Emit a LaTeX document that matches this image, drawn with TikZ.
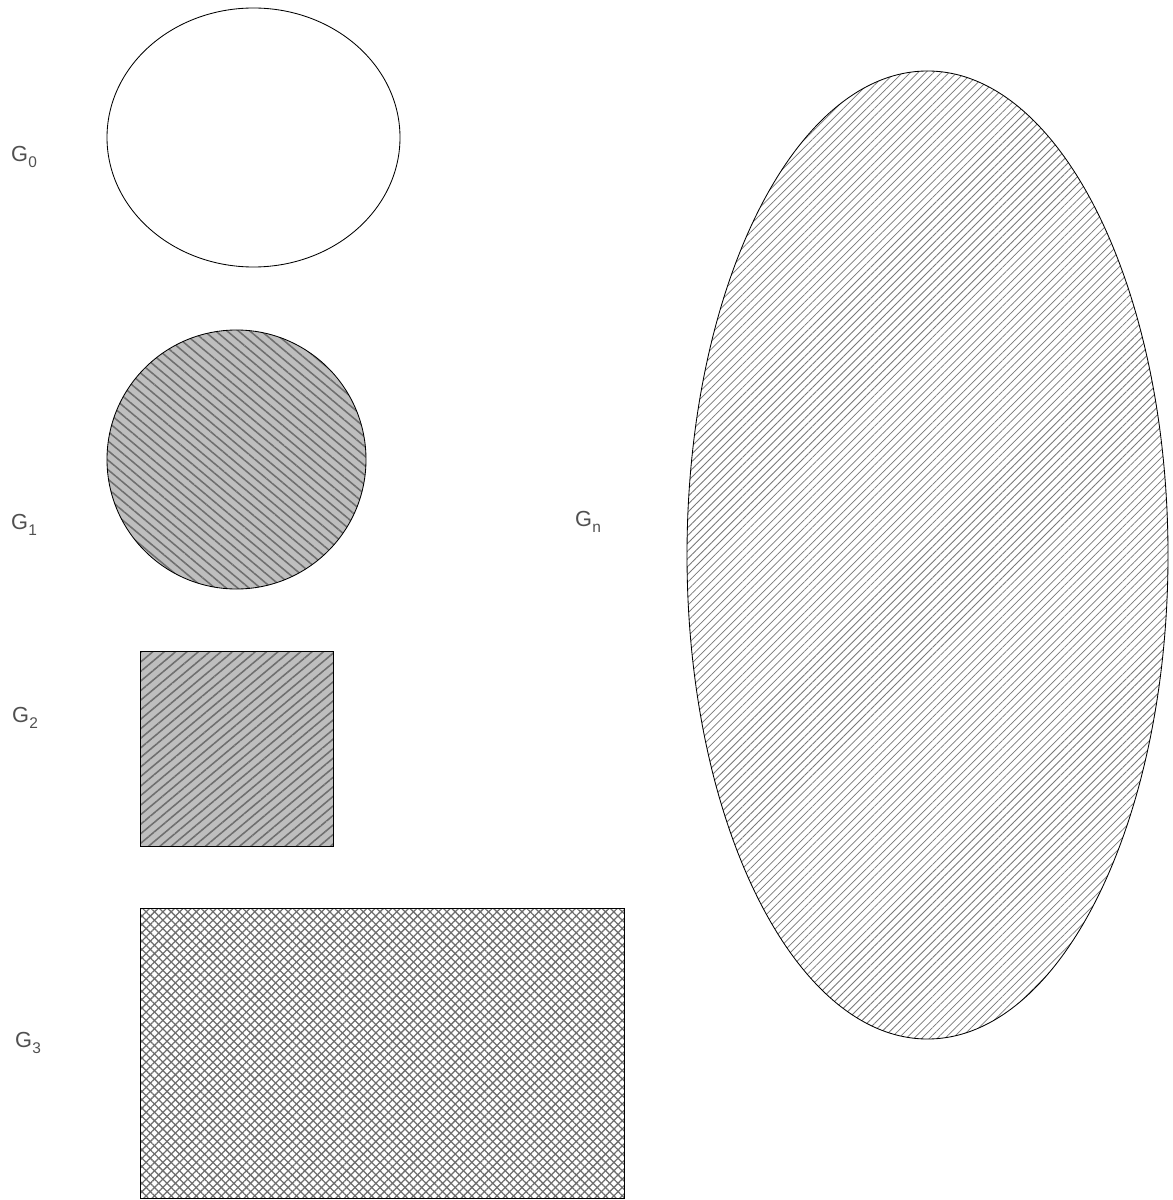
\documentclass[tikz,border=0pt]{standalone}
\usepackage{fontspec}
\setmainfont{Liberation Sans}
\usepackage{xcolor}
\usepackage{tikz}
\usetikzlibrary{patterns.meta}
\definecolor{setgray}{RGB}{190, 190, 190}
\definecolor{hatchdark}{RGB}{110, 110, 110}
\definecolor{hatchlight}{RGB}{120, 120, 120}
\definecolor{labelgray}{RGB}{80, 80, 80}
\newcommand{\setsub}[1]{\kern0.3pt\raisebox{-4pt}{\fontsize{11}{13}\selectfont #1}}
\tikzset{
  setline/.style = {draw=black, line width=0.6pt},
  setlbl/.style  = {font=\fontsize{15.5}{18}\selectfont, text=labelgray,
                    inner sep=0pt},
  hatchfg/.style = {
    postaction={pattern={Lines[angle=#1, distance=5.2pt, line width=1.1pt]},
                pattern color=hatchdark}
  },
  hatchfg/.default = 45,
  finefg/.style = {
    postaction={pattern={Lines[angle=#1, distance=3.9pt, line width=0.55pt]},
                pattern color=hatchlight}
  },
  finefg/.default = 45,
  crossfg/.style = {
    postaction={pattern={Lines[angle=45, distance=4.2pt, line width=0.9pt]},
                pattern color=hatchdark},
    postaction={pattern={Lines[angle=-45, distance=4.2pt, line width=0.9pt]},
                pattern color=hatchdark}
  },
}

\begin{document}
\begin{tikzpicture}[x=0.025cm, y=-0.025cm]
  \useasboundingbox (0,0) rectangle (1172,1200);

  % Empty set (top left)
  \draw[setline] (253.5,137.5) ellipse [x radius=146.5, y radius=129.5];
  \node[setlbl] (g0) at (24,157) {G\setsub{0}};

  % Shaded disc and square
  \fill[setgray, hatchfg=-40] (236.5,459.5) circle [radius=129.5];
  \draw[setline] (236.5,459.5) circle [radius=129.5];
  \node[setlbl] (g1) at (24,525) {G\setsub{1}};

  \fill[setgray, hatchfg=40] (140,651) rectangle (333,846);
  \draw[setline] (140,651) rectangle (333,846);
  \node[setlbl] (g2) at (25,718) {G\setsub{2}};

  % Cross-hatched rectangle (bottom)
  \fill[white, crossfg] (140,908) rectangle (624,1198);
  \draw[setline] (140,908) rectangle (624,1198);
  \node[setlbl] (g3) at (28,1043) {G\setsub{3}};

  % Large set (right)
  \fill[white, finefg=45] (927.5,555) ellipse [x radius=240.5, y radius=484];
  \draw[setline] (927.5,555) ellipse [x radius=240.5, y radius=484];
  \node[setlbl] (gn) at (588,522) {G\setsub{n}};

\end{tikzpicture}
\end{document}
